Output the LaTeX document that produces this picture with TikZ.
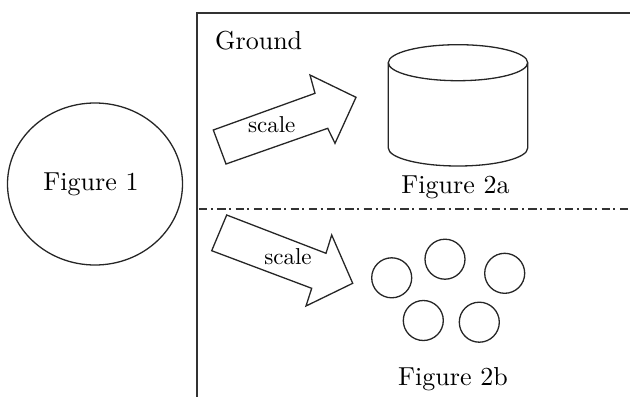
\documentclass[tikz,border=0pt]{standalone}
\usetikzlibrary{shapes.geometric}
\newcommand{\bigtxt}[1]{\scalebox{2.6}{#1}}
\newcommand{\smalltxt}[1]{\scalebox{2.3}{#1}}
\begin{document}
\begin{tikzpicture}[x=1pt,y=-1pt,
  outline/.style={draw=black!85,line width=1.3pt},
  frame/.style={draw=black!80,line width=2pt},
  divider/.style={draw=black!80,line width=1.8pt,dash pattern=on 8.3pt off 3.5pt on 2pt off 4.5pt},
  label/.style={inner sep=0pt},
  blob/.style={outline,circle,minimum size=40pt,inner sep=0pt}]
\useasboundingbox (0,0) rectangle (630,397);

% left figure
\node[outline,ellipse,minimum width=175pt,minimum height=162pt,inner sep=0pt] (fig1) at (95,184) {};
\node[label] (fig1label) at (91,184) {\bigtxt{Figure 1}};

% frame of the ground area
\coordinate (ftop) at (197,12.5);
\coordinate (fbot) at (197,397);
\coordinate (fright) at (630,12.5);
\draw[frame] (fright) -- (ftop) -- (fbot);
\node[label,anchor=base west] (ground) at (215,49.3) {\bigtxt{Ground}};

% dash-dot separator
\coordinate (dl) at (199,209);
\coordinate (dr) at (630,209);
\draw[divider] (dl) -- (dr);

% upper arrow
\draw[outline,line join=miter] (226,164) -- (213.3,130) -- (315,93.3) -- (310,75)
  -- (356,97.3) -- (335,143.3) -- (327.7,128.3) -- cycle;
\node[label] (scaleA) at (271.7,125) {\smalltxt{scale}};

% lower arrow
\draw[outline,line join=miter] (226.7,215) -- (211.7,250.7) -- (311.7,288.3) -- (306,306)
  -- (352.7,283.3) -- (331.7,235) -- (326,253.3) -- cycle;
\node[label] (scaleB) at (288,257) {\smalltxt{scale}};

% cylinder
\draw[outline] (388.3,62.7) -- (388.3,148) arc[start angle=180,end angle=360,x radius=69.7pt,y radius=18pt] -- (527.7,62.7);
\draw[outline] (458,62.7) ellipse[x radius=69.7pt,y radius=18pt];
\node[label,anchor=base] (fig2a) at (455.5,193.3) {\bigtxt{Figure 2a}};

% scattered particles
\node[blob] (p1) at (391.7,277.8) {};
\node[blob] (p2) at (445,259.2) {};
\node[blob] (p3) at (504.7,273.3) {};
\node[blob] (p4) at (423.3,320.5) {};
\node[blob] (p5) at (479.3,322.2) {};
\node[label,anchor=base] (fig2b) at (453,385) {\bigtxt{Figure 2b}};
\end{tikzpicture}
\end{document}
